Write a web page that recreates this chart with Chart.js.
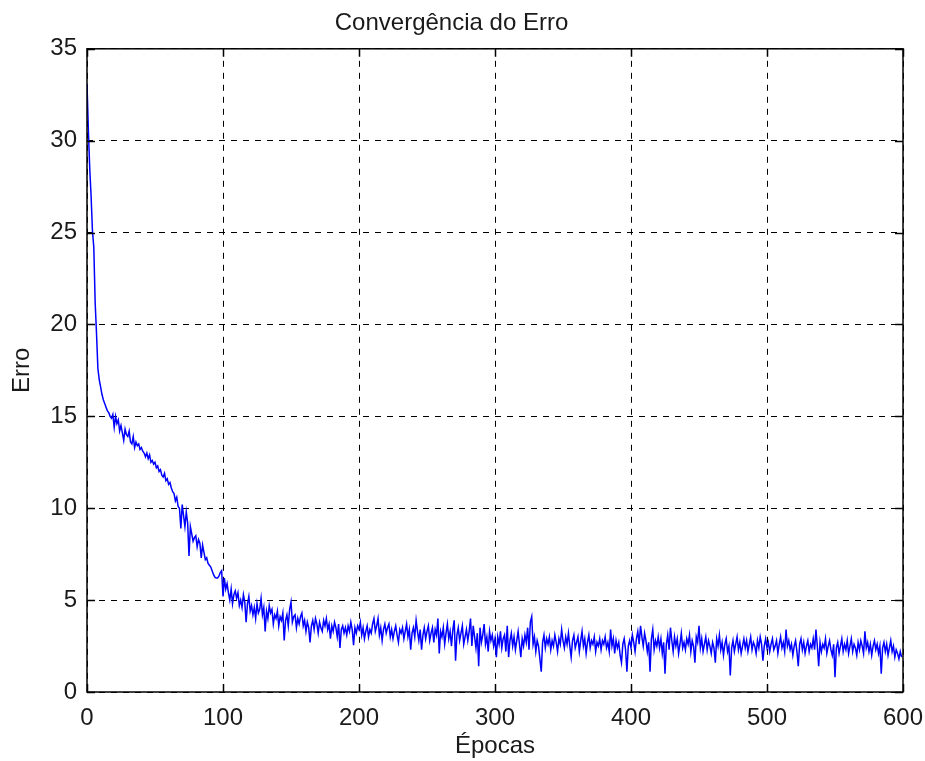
<!DOCTYPE html>
<html>
<head>
<meta charset="utf-8">
<title>Convergência do Erro</title>
<script src="https://cdn.jsdelivr.net/npm/chart.js@4.4.0/dist/chart.umd.min.js"></script>
<style>
  body { margin: 0; background: #fff; }
  canvas { display: block; }
</style>
</head>
<body>
<canvas id="erroChart" width="925" height="761"></canvas>
<script>
const epocasTicks = [0, 100, 200, 300, 400, 500, 600];
const erroTicks = [0, 5, 10, 15, 20, 25, 30, 35];

// erro por época, em blocos de 100 épocas
const erro000a099 = [
  33.1, 30.6, 28.5, 27.0, 25.1, 24.2, 21.2, 19.5, 17.6, 17.0, 16.6, 16.2, 15.9, 15.7, 15.5, 15.3, 15.2, 15.0, 14.9, 15.1,
  14.4, 15.0, 14.6, 14.8, 14.2, 14.5, 14.1, 13.7, 14.3, 14.0, 13.9, 14.2, 13.6, 13.5, 13.9, 13.3, 13.6, 13.4, 13.5, 13.2,
  13.3, 13.1, 13.0, 12.8, 13.0, 12.7, 12.9, 12.5, 12.6, 12.4, 12.5, 12.2, 12.3, 12.0, 12.1, 11.8, 11.7, 11.9, 11.5, 11.6,
  11.3, 11.4, 11.1, 10.9, 10.8, 10.4, 10.6, 10.1, 10.0, 8.9, 10.2, 9.6, 9.0, 9.8, 9.2, 7.4, 9.0, 8.6, 8.2, 8.4,
  8.5, 7.9, 8.3, 8.1, 7.3, 8.0, 7.6, 7.2, 7.3, 7.0, 6.9, 6.8, 6.6, 6.4, 6.25, 6.2, 6.2, 6.3, 6.5, 6.6
];
const erro100a199 = [
  5.2, 6.2, 5.6, 5.9, 5.4, 5.0, 5.6, 4.8, 5.3, 5.5, 5.1, 5.4, 4.7, 5.0, 4.6, 5.3, 4.9, 3.8, 4.8, 5.2,
  4.4, 4.7, 4.2, 4.6, 4.0, 4.8, 4.3, 4.5, 5.1, 4.2, 4.6, 3.3, 4.4, 4.0, 4.7, 4.3, 4.5, 3.7, 4.2, 4.0,
  4.4, 3.6, 4.1, 3.9, 4.3, 2.8, 3.9, 4.2, 3.6, 4.5, 4.9, 3.8, 4.1, 4.2, 3.5, 4.0, 3.7, 4.1, 4.3, 3.6,
  3.9, 3.3, 3.8, 3.5, 2.7, 3.6, 3.9, 3.4, 4.0, 3.7, 3.2, 3.8, 3.5, 3.3, 3.9, 3.6, 4.0, 3.4, 3.7, 2.9,
  3.6, 3.3, 3.8, 3.5, 3.0, 3.7, 2.4, 3.4, 3.6, 3.2, 3.5, 3.1, 3.6, 3.3, 3.8, 3.4, 2.55, 3.5, 3.2, 3.6
];
const erro200a299 = [
  3.4, 3.8, 3.1, 3.5, 2.9, 3.3, 3.6, 3.0, 3.4, 3.2, 3.7, 4.0, 3.3, 3.6, 4.0, 3.1, 3.5, 2.8, 3.4, 3.7,
  3.2, 3.5, 3.7, 3.0, 3.4, 2.9, 3.3, 3.6, 3.1, 2.7, 3.4, 3.2, 3.5, 2.9, 3.3, 3.7, 3.0, 3.4, 2.3, 3.2,
  3.5, 3.0, 3.9, 3.3, 2.8, 3.4, 2.3, 3.1, 3.5, 2.9, 3.3, 3.6, 2.8, 3.2, 3.5, 2.7, 3.4, 3.1, 4.0, 2.1,
  3.3, 3.0, 3.5, 2.6, 3.2, 3.7, 2.9, 3.3, 2.5, 3.4, 3.9, 1.7, 3.1, 3.5, 2.8, 3.2, 3.6, 2.6, 3.0, 3.4,
  2.8, 3.3, 4.0, 2.5, 3.6, 3.0, 2.4, 3.2, 1.4, 3.5, 2.7, 3.1, 3.7, 2.6, 3.0, 2.2, 3.3, 2.8, 3.1, 2.5
];
const erro300a399 = [
  2.9, 1.9, 3.0, 2.6, 3.3, 2.4, 2.9, 3.1, 2.2, 3.6, 1.9, 2.8, 3.2, 2.5, 3.0, 2.3, 2.8, 3.3, 2.6, 1.9,
  2.9, 2.5, 3.1, 2.7, 3.5, 2.3, 3.8, 4.1, 2.6, 3.0, 2.2, 2.8, 2.5, 1.8, 1.1, 2.7, 3.1, 2.4, 2.9, 2.6,
  3.0, 2.3, 2.8, 2.5, 3.1, 2.7, 2.2, 2.9, 2.6, 3.4, 2.8, 2.4, 3.0, 2.6, 3.2, 2.5, 1.9, 2.8, 3.1, 2.4,
  2.7, 3.0, 2.2, 2.8, 3.3, 2.5, 2.9, 2.1, 2.7, 3.1, 2.4, 2.8, 2.6, 3.0, 2.2, 2.7, 2.5, 2.9, 2.3, 2.8,
  2.6, 3.0, 2.4, 2.7, 2.2, 3.4, 2.5, 2.9, 2.1, 2.8, 2.4, 2.7, 2.0, 1.6, 2.6, 2.9, 2.3, 1.1, 2.5, 2.8
];
const erro400a499 = [
  2.4, 3.1, 2.7, 2.2, 2.9, 3.3, 2.6, 3.6, 3.0, 2.5, 3.2, 2.8, 2.2, 2.7, 1.1, 2.9, 3.4, 2.3, 2.8, 2.5,
  3.0, 2.4, 2.9, 2.1, 2.7, 1.0, 2.6, 3.1, 2.3, 3.5, 2.8, 2.2, 3.0, 2.5, 2.9, 2.1, 2.6, 3.2, 2.4, 2.7,
  2.3, 2.9, 2.6, 3.1, 2.2, 2.8, 2.5, 1.6, 3.0, 2.7, 3.6, 2.4, 2.9, 2.2, 2.6, 3.0, 2.3, 2.8, 2.5, 2.1,
  2.7, 2.4, 1.6, 2.9, 2.5, 3.1, 2.3, 2.7, 2.0, 2.6, 2.9, 2.2, 2.5, 0.9, 2.4, 2.8, 2.2, 2.6, 3.0, 2.3,
  2.7, 2.1, 2.5, 2.9, 2.4, 2.8, 2.2, 2.6, 3.0, 2.3, 2.7, 2.5, 2.1, 2.8, 2.4, 3.0, 2.6, 1.7, 2.5, 2.9
];
const erro500a599 = [
  2.4, 2.7, 2.2, 2.6, 2.9, 2.3, 2.5, 2.8, 2.1, 2.6, 3.0, 2.4, 2.7, 2.2, 3.4, 2.5, 2.8, 2.3, 2.6, 2.0,
  2.5, 2.8, 2.2, 1.4, 2.6, 2.9, 2.3, 2.7, 2.1, 2.5, 2.8, 2.2, 2.6, 2.4, 2.9, 2.3, 3.4, 2.5, 1.4, 2.7,
  2.2, 2.6, 2.4, 2.9, 2.1, 2.5, 2.8, 2.3, 2.0, 2.6, 0.8, 2.4, 2.7, 2.1, 2.5, 2.9, 2.2, 2.6, 2.3, 2.8,
  2.1, 2.5, 2.9, 2.2, 2.6, 2.4, 2.0, 2.7, 2.3, 2.8, 2.5, 2.1, 3.3, 2.4, 2.7, 2.2, 2.6, 2.0, 2.5, 2.8,
  2.3, 2.6, 2.1, 2.5, 1.0, 2.4, 2.7, 2.2, 2.6, 2.0, 2.4, 2.8, 2.2, 2.5, 1.9, 2.3, 2.1, 1.8, 2.2, 1.9
];

const erro = [].concat(erro000a099, erro100a199, erro200a299, erro300a399, erro400a499, erro500a599);
const pontos = erro.map((v, i) => ({ x: i, y: v }));

const FONTE = "'Liberation Sans', Arial, sans-serif";
const COR_TEXTO = '#1a1a1a';

// caixa fechada em volta do gráfico, com marcas de escala para dentro
const moldura = {
  id: 'moldura',
  afterDraw(chart) {
    const { ctx, chartArea: a, scales: { x, y } } = chart;
    ctx.save();
    ctx.strokeStyle = '#000';
    ctx.lineWidth = 1.5;
    ctx.strokeRect(a.left, a.top, a.right - a.left, a.bottom - a.top);
    ctx.beginPath();
    epocasTicks.forEach(v => {
      const px = Math.round(x.getPixelForValue(v)) + 0.5;
      ctx.moveTo(px, a.bottom); ctx.lineTo(px, a.bottom - 8);
      ctx.moveTo(px, a.top); ctx.lineTo(px, a.top + 8);
    });
    erroTicks.forEach(v => {
      const py = Math.round(y.getPixelForValue(v)) + 0.5;
      ctx.moveTo(a.left, py); ctx.lineTo(a.left + 8, py);
      ctx.moveTo(a.right, py); ctx.lineTo(a.right - 8, py);
    });
    ctx.stroke();
    ctx.restore();
  }
};

new Chart(document.getElementById('erroChart').getContext('2d'), {
  type: 'line',
  data: {
    datasets: [{
      data: pontos,
      borderColor: '#0000ff',
      borderWidth: 1.5,
      pointRadius: 0,
      tension: 0,
      fill: false
    }]
  },
  options: {
    responsive: false,
    animation: false,
    devicePixelRatio: 1,
    layout: { padding: { top: 0, right: 22, bottom: 0, left: 0 } },
    plugins: {
      legend: { display: false },
      tooltip: { enabled: false },
      title: {
        display: true,
        text: 'Convergência do Erro',
        color: COR_TEXTO,
        font: { family: FONTE, size: 24, weight: 'normal' },
        padding: { top: 9, bottom: 11 }
      }
    },
    scales: {
      x: {
        type: 'linear',
        min: 0,
        max: 600,
        afterBuildTicks: s => { s.ticks = epocasTicks.map(value => ({ value })); },
        afterFit: s => { s.height = 69; s.paddingLeft = 0; s.paddingRight = 0; },
        ticks: { color: COR_TEXTO, font: { family: FONTE, size: 24 }, padding: 12, maxRotation: 0, autoSkip: false },
        grid: { color: '#000', lineWidth: 1, drawTicks: false },
        border: { display: false, dash: [6, 6] },
        title: {
          display: true,
          text: 'Épocas',
          color: COR_TEXTO,
          font: { family: FONTE, size: 24 },
          padding: { top: 0, bottom: 0 }
        }
      },
      y: {
        min: 0,
        max: 35,
        afterBuildTicks: s => { s.ticks = erroTicks.map(value => ({ value })); },
        afterFit: s => { s.width = 87; s.paddingTop = 0; s.paddingBottom = 0; },
        ticks: { color: COR_TEXTO, font: { family: FONTE, size: 24 }, padding: 10 },
        grid: { color: '#000', lineWidth: 1, drawTicks: false },
        border: { display: false, dash: [6, 6] },
        title: {
          display: true,
          text: 'Erro',
          color: COR_TEXTO,
          font: { family: FONTE, size: 24 },
          padding: { top: 8, bottom: 0 }
        }
      }
    }
  },
  plugins: [moldura]
});
</script>
</body>
</html>
